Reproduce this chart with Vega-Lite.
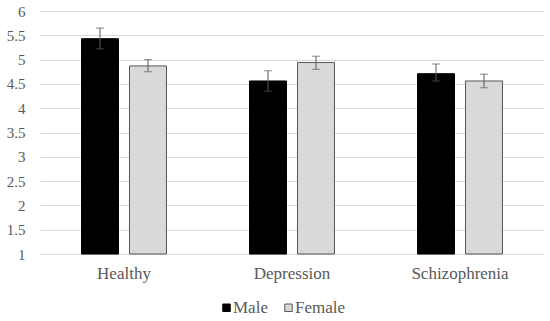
{
  "$schema": "https://vega.github.io/schema/vega-lite/v6.json",
  "width": 504,
  "height": 243,
  "autosize": "none",
  "padding": {"left": 40, "top": 11, "right": 6, "bottom": 67},
  "background": "white",
  "config": {
    "view": {"stroke": null},
    "font": "Liberation Serif",
    "axisY": {
      "title": null, "domain": false, "ticks": false,
      "gridColor": "#d9d9d9", "gridWidth": 1,
      "labelFont": "Liberation Serif", "labelOverlap": false,
      "labelColor": "#595959", "labelFontSize": 15, "labelPadding": 15
    }
  },
  "data": {
    "values": [
      {"group": "Healthy", "sex": "Male", "mean": 5.43, "lo": 5.22, "hi": 5.65},
      {"group": "Healthy", "sex": "Female", "mean": 4.87, "lo": 4.75, "hi": 5.0},
      {"group": "Depression", "sex": "Male", "mean": 4.56, "lo": 4.35, "hi": 4.77},
      {"group": "Depression", "sex": "Female", "mean": 4.94, "lo": 4.8, "hi": 5.07},
      {"group": "Schizophrenia", "sex": "Male", "mean": 4.71, "lo": 4.56, "hi": 4.91},
      {"group": "Schizophrenia", "sex": "Female", "mean": 4.56, "lo": 4.42, "hi": 4.7}
    ]
  },
  "encoding": {
    "x": {
      "field": "group", "type": "nominal",
      "sort": ["Healthy", "Depression", "Schizophrenia"],
      "scale": {"paddingInner": 0, "paddingOuter": 0},
      "axis": {
        "title": null, "labelAngle": 0, "ticks": false,
        "domainColor": "#d9d9d9", "labelColor": "#595959",
        "labelFont": "Liberation Serif",
        "labelFontSize": 17, "labelPadding": 11
      }
    },
    "xOffset": {
      "field": "sex", "type": "nominal",
      "sort": ["Male", "Female"],
      "scale": {"paddingInner": 0.229, "paddingOuter": 0.865}
    }
  },
  "layer": [
    {
      "mark": {"type": "bar", "strokeWidth": 1},
      "encoding": {
        "y": {
          "field": "mean", "type": "quantitative",
          "scale": {"domain": [1, 6]},
          "axis": {"values": [1, 1.5, 2, 2.5, 3, 3.5, 4, 4.5, 5, 5.5, 6], "format": "~g"}
        },
        "y2": {"datum": 1},
        "fill": {
          "field": "sex", "type": "nominal",
          "sort": ["Male", "Female"],
          "scale": {"domain": ["Male", "Female"], "range": ["#000000", "#d9d9d9"]},
          "legend": {
            "title": null, "orient": "none", "direction": "horizontal",
            "legendX": 178, "legendY": 288,
            "symbolType": "square", "symbolSize": 56, "symbolStrokeWidth": 1,
            "labelFont": "Liberation Serif",
            "labelFontSize": 17, "labelColor": "#595959", "columnPadding": 12,
            "labelOffset": -2
          }
        },
        "stroke": {
          "field": "sex", "type": "nominal",
          "scale": {"domain": ["Male", "Female"], "range": ["#000000", "#595959"]},
          "legend": null
        }
      }
    },
    {
      "mark": {"type": "rule", "color": "#595959", "strokeWidth": 1},
      "encoding": {
        "y": {"field": "lo", "type": "quantitative", "axis": {"values": [1, 1.5, 2, 2.5, 3, 3.5, 4, 4.5, 5, 5.5, 6], "format": "~g"}},
        "y2": {"field": "hi"}
      }
    },
    {
      "mark": {"type": "tick", "color": "#595959", "thickness": 1, "size": 8},
      "encoding": {"y": {"field": "lo", "type": "quantitative", "axis": {"values": [1, 1.5, 2, 2.5, 3, 3.5, 4, 4.5, 5, 5.5, 6], "format": "~g"}}}
    },
    {
      "mark": {"type": "tick", "color": "#595959", "thickness": 1, "size": 8},
      "encoding": {"y": {"field": "hi", "type": "quantitative", "axis": {"values": [1, 1.5, 2, 2.5, 3, 3.5, 4, 4.5, 5, 5.5, 6], "format": "~g"}}}
    }
  ]
}
